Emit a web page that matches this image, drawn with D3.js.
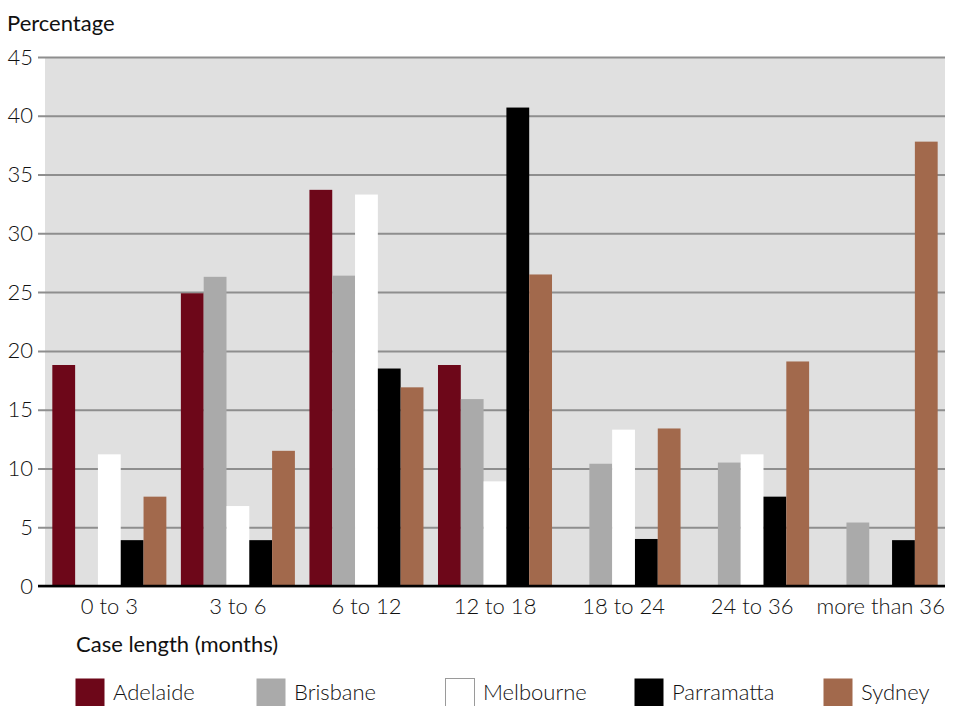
<!DOCTYPE html>
<html>
<head>
<meta charset="utf-8">
<script src="https://cdn.jsdelivr.net/npm/d3@7/dist/d3.min.js"></script>
<style>
  html, body { margin: 0; padding: 0; background: #fff; }
  svg { display: block; }
  text { font-family: Lato, "Open Sans", sans-serif; fill: #111; }
</style>
</head>
<body>
<svg id="chart" width="953" height="706"></svg>
<script>
// Case length bands (months)
const categories = ["0 to 3", "3 to 6", "6 to 12", "12 to 18", "18 to 24", "24 to 36", "more than 36"];
const seriesNames = ["Adelaide", "Brisbane", "Melbourne", "Parramatta", "Sydney"];
const seriesColors = ["#6d0719", "#aaaaaa", "#ffffff", "#000000", "#a2694c"];

// Percentage of cases in each band, per registry
const adelaide   = [18.8, 24.9, 33.7, 18.8, 0,    0,    0];
const brisbane   = [0,    26.3, 26.4, 15.9, 10.4, 10.5, 5.4];
const melbourne  = [11.2, 6.8,  33.3, 8.9,  13.3, 11.2, 0];
const parramatta = [3.9,  3.9,  18.5, 40.7, 4.0,  7.6,  3.9];
const sydney     = [7.6,  11.5, 16.9, 26.5, 13.4, 19.1, 37.8];
const seriesValues = [adelaide, brisbane, melbourne, parramatta, sydney];

const yTicks = [0, 5, 10, 15, 20, 25, 30, 35, 40, 45];

const svg = d3.select("#chart");
const plot = { left: 45, right: 945, top: 57, bottom: 586 };

const x0 = d3.scaleBand()
  .domain(categories)
  .range([plot.left, plot.right])
  .paddingInner(0.113)
  .paddingOuter(0.057);

const x1 = d3.scaleBand()
  .domain(seriesNames)
  .range([0, x0.bandwidth()]);

const y = d3.scaleLinear().domain([0, 45]).range([plot.bottom, plot.top]);

// plot background
svg.append("rect")
  .attr("x", plot.left).attr("y", plot.top)
  .attr("width", plot.right - plot.left)
  .attr("height", plot.bottom - plot.top)
  .attr("fill", "#e0e0e0");

// horizontal gridlines with ticks on the left
const yAxis = d3.axisLeft(y)
  .tickValues(yTicks)
  .tickSize(-(plot.right - plot.left))
  .tickPadding(12)
  .tickFormat(d3.format("d"));

const gy = svg.append("g")
  .attr("transform", `translate(${plot.left},0)`)
  .call(yAxis);
gy.select(".domain").remove();
gy.selectAll(".tick line")
  .attr("x1", -7)
  .attr("stroke", "#8e8e8e")
  .attr("stroke-width", 2);
gy.selectAll(".tick text")
  .attr("x", -12)
  .style("font-family", "Lato, sans-serif")
  .style("font-weight", 300)
  .style("font-size", "22px")
  .attr("fill", "#111");

// bars
const groups = svg.append("g")
  .selectAll("g")
  .data(categories)
  .join("g")
  .attr("transform", d => `translate(${x0(d)},0)`);

groups.selectAll("rect")
  .data((c, i) => seriesNames.map((s, j) => ({ s, v: seriesValues[j][i], color: seriesColors[j] })))
  .join("rect")
  .attr("x", d => x1(d.s))
  .attr("width", x1.bandwidth())
  .attr("y", d => y(d.v))
  .attr("height", d => y(0) - y(d.v))
  .attr("fill", d => d.color);

// zero baseline
svg.append("line")
  .attr("x1", plot.left - 7).attr("x2", plot.right)
  .attr("y1", y(0)).attr("y2", y(0))
  .attr("stroke", "#000").attr("stroke-width", 2.5);

// category labels
const xAxis = d3.axisBottom(x0).tickSize(0).tickPadding(12);
const gx = svg.append("g")
  .attr("transform", `translate(0,${plot.bottom})`)
  .call(xAxis);
gx.select(".domain").remove();
gx.selectAll(".tick text")
  .style("font-family", "Lato, sans-serif")
  .style("font-weight", 300)
  .style("font-size", "22px")
  .attr("fill", "#111");

// axis titles
svg.append("text")
  .attr("x", 7).attr("y", 31)
  .style("font-size", "22px")
  .style("font-weight", 400)
  .text("Percentage");

svg.append("text")
  .attr("x", 76).attr("y", 652)
  .style("font-size", "22px")
  .style("font-weight", 400)
  .text("Case length (months)");

// legend
const legendX = [75, 256, 445, 634, 823];
const legend = svg.append("g")
  .selectAll("g")
  .data(seriesNames)
  .join("g")
  .attr("transform", (d, i) => `translate(${legendX[i]},678)`);

legend.append("rect")
  .attr("x", 0.5).attr("y", 0.5)
  .attr("width", 29).attr("height", 28)
  .attr("fill", (d, i) => seriesColors[i])
  .attr("stroke", (d, i) => seriesColors[i] === "#ffffff" ? "#9a9a9a" : "none")
  .attr("stroke-width", 1);

legend.append("text")
  .attr("x", 38).attr("y", 22)
  .style("font-size", "22px")
  .style("font-weight", 300)
  .text(d => d);
</script>
</body>
</html>
